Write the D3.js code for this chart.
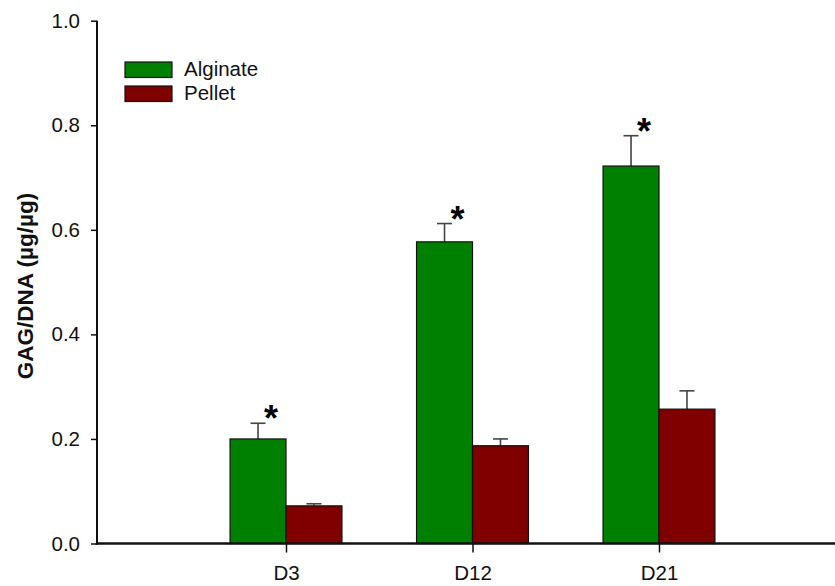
<!DOCTYPE html>
<html>
<head>
<meta charset="utf-8">
<script src="https://cdn.jsdelivr.net/npm/d3@7"></script>
<style>
  html, body { margin: 0; padding: 0; background: #fff; }
  svg { display: block; font-family: Arial, "Liberation Sans", sans-serif; }
</style>
</head>
<body>
<svg id="chart" width="835" height="586"></svg>
<script>
// Time points and GAG/DNA means with SD (µg/µg)
const categories = ["D3", "D12", "D21"];
const seriesNames = ["Alginate", "Pellet"];
const alginateMean = [0.200, 0.577, 0.722];
const alginateErr = [0.030, 0.035, 0.058];
const pelletMean = [0.072, 0.187, 0.257];
const pelletErr = [0.004, 0.013, 0.035];
const significant = [true, true, true];
const yTicks = [0.0, 0.2, 0.4, 0.6, 0.8, 1.0];

const colors = { Alginate: "#008000", Pellet: "#800000" };

const svg = d3.select("#chart");
const width = 835;

// Category positions sit at 1, 2, 3 on a 0..4 axis
const x = d3.scaleLinear().domain([0, 4]).range([99.5, 845.5]);
const y = d3.scaleLinear().domain([0, 1]).range([543.5, 20.7]);
const axisX = 97;
const barW = x(0.3) - x(0);

const series = [
  { name: "Alginate", mean: alginateMean, err: alginateErr, side: -1 },
  { name: "Pellet", mean: pelletMean, err: pelletErr, side: 0 }
];

// Bars
series.forEach(s => {
  const g = svg.append("g");
  const data = categories.map((c, i) => ({ i, v: s.mean[i], e: s.err[i] }));
  const cx = d => x(d.i + 1) + (s.side === -1 ? -barW / 2 : barW / 2);
  // error bars (drawn first so the bar outline sits over the stem)
  g.selectAll("line.stem").data(data).join("line")
    .attr("x1", cx).attr("x2", cx)
    .attr("y1", d => y(d.v))
    .attr("y2", d => y(d.v + d.e))
    .attr("stroke", "#444").attr("stroke-width", 1.6);
  g.selectAll("line.cap").data(data).join("line")
    .attr("x1", d => cx(d) - 7.5)
    .attr("x2", d => cx(d) + 7.5)
    .attr("y1", d => y(d.v + d.e))
    .attr("y2", d => y(d.v + d.e))
    .attr("stroke", "#444").attr("stroke-width", 1.6);
  g.selectAll("rect").data(data).join("rect")
    .attr("x", d => x(d.i + 1) + (s.side === -1 ? -barW : 0))
    .attr("y", d => y(d.v))
    .attr("width", barW)
    .attr("height", d => y(0) - y(d.v))
    .attr("fill", colors[s.name])
    .attr("stroke", "#111").attr("stroke-width", 1.2);
});

// Significance markers above the Alginate error bars
svg.append("g").selectAll("text")
  .data(categories.map((c, i) => i).filter(i => significant[i]))
  .join("text")
  .attr("x", i => x(i + 1) - barW / 2 + 13)
  .attr("y", i => y(alginateMean[i] + alginateErr[i]) + 8)
  .attr("text-anchor", "middle")
  .attr("font-size", 36).attr("font-weight", "bold")
  .attr("fill", "#000")
  .text("*");

// Y axis
const yAxis = svg.append("g")
  .attr("transform", `translate(${axisX},0)`)
  .call(d3.axisLeft(y).tickValues(yTicks).tickFormat(d3.format(".1f")).tickSize(6).tickPadding(11));
yAxis.select(".domain").remove();
yAxis.append("line")
  .attr("x1", 0).attr("x2", 0).attr("y1", y(1)).attr("y2", y(0) + 1)
  .attr("stroke", "#111").attr("stroke-width", 2);
yAxis.selectAll(".tick line").attr("stroke", "#111").attr("stroke-width", 1.5);
yAxis.selectAll(".tick text").attr("font-size", 20.5).attr("fill", "#111")
  .attr("font-family", "Arial, 'Liberation Sans', sans-serif");

// X axis
const xAxis = svg.append("g")
  .attr("transform", `translate(0,${y(0)})`)
  .call(d3.axisBottom(x).tickValues([1, 2, 3]).tickFormat(d => categories[d - 1]).tickSize(9).tickPadding(13));
xAxis.select(".domain").remove();
xAxis.append("line")
  .attr("x1", axisX - 1).attr("x2", width).attr("y1", 0).attr("y2", 0)
  .attr("stroke", "#111").attr("stroke-width", 2.6);
xAxis.selectAll(".tick line").attr("stroke", "#111").attr("stroke-width", 1.5);
xAxis.selectAll(".tick text").attr("font-size", 20.5).attr("fill", "#111")
  .attr("font-family", "Arial, 'Liberation Sans', sans-serif");

// Y axis title
svg.append("text")
  .attr("transform", "translate(33,286) rotate(-90)")
  .attr("text-anchor", "middle")
  .attr("font-size", 22.5).attr("font-weight", "bold").attr("fill", "#111")
  .text("GAG/DNA (µg/µg)");

// Legend
const legend = svg.append("g").attr("transform", "translate(125,62)");
seriesNames.forEach((name, i) => {
  legend.append("rect")
    .attr("x", 0).attr("y", i * 24)
    .attr("width", 47).attr("height", 15.5)
    .attr("fill", colors[name]).attr("stroke", "#111").attr("stroke-width", 1.2);
  legend.append("text")
    .attr("x", 59).attr("y", i * 24 + 14)
    .attr("font-size", 20.5).attr("fill", "#111")
    .text(name);
});
</script>
</body>
</html>
